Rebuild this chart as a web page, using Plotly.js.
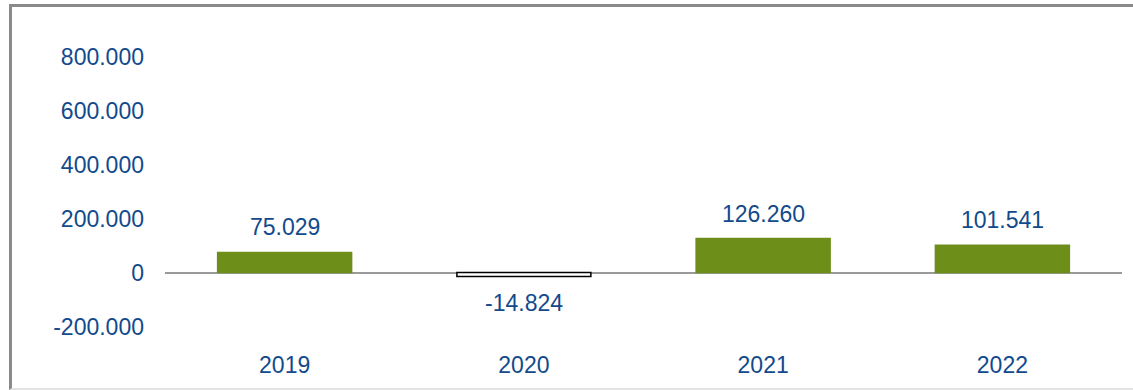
<!DOCTYPE html>
<html>
<head>
<meta charset="utf-8">
<script src="https://cdn.plot.ly/plotly-3.0.1.min.js"></script>
<style>
  html, body { margin: 0; padding: 0; background: #fff; }
  #wrap { position: relative; width: 1133px; height: 390px; overflow: hidden; }
  #chart { position: absolute; left: 0; top: 0; width: 1133px; height: 390px; }
  #frame { position: absolute; left: 9px; top: 4px; width: 1124px; height: 381px;
           border-top: 3px solid #8a8a8a; border-left: 3px solid #8a8a8a;
           border-bottom: 2px solid #e3e3e3; pointer-events: none; }
</style>
</head>
<body>
<div id="wrap"><div id="chart"></div><div id="frame"></div></div>
<script>
const years = ['2019', '2020', '2021', '2022'];
const values = [75029, -14824, 126260, 101541];
const labels = ['75.029', '-14.824', '126.260', '101.541'];
const tickVals = [-200000, 0, 200000, 400000, 600000, 800000];
const tickText = ['-200.000', '0', '200.000', '400.000', '600.000', '800.000'];

const textBlue = '#124a8c';
const green = '#6e8e1a';
const fnt = 'Liberation Sans, Arial, sans-serif';

const fills = values.map(v => v < 0 ? '#ffffff' : green);
const lineCols = values.map(v => v < 0 ? '#000000' : green);

const trace = {
  type: 'bar', x: years, y: values,
  marker: { color: fills, line: { color: lineCols, width: 1.5 } },
  hoverinfo: 'none'
};

const annotations = years.map((yr, i) => ({
  x: i, y: values[i], xref: 'x', yref: 'y',
  text: labels[i], showarrow: false,
  yanchor: 'middle', yshift: values[i] < 0 ? -26 : 25,
  font: { family: fnt, size: 23, color: textBlue }
}));

const layout = {
  width: 1133, height: 390,
  margin: { l: 165, r: 11, t: 30, b: 50 },
  paper_bgcolor: '#ffffff', plot_bgcolor: '#ffffff',
  bargap: 0.44,
  showlegend: false,
  xaxis: {
    type: 'category', categoryarray: years, range: [-0.5, 3.5],
    showgrid: false, showline: false, zeroline: false,
    ticks: 'outside', ticklen: 4, tickcolor: 'rgba(0,0,0,0)',
    tickfont: { family: fnt, size: 23, color: textBlue }
  },
  yaxis: {
    range: [-250000, 900000], showgrid: false, showline: false,
    zeroline: true, zerolinecolor: '#9a9a9a', zerolinewidth: 2,
    tickvals: tickVals, ticktext: tickText,
    ticklabelstandoff: 20,
    tickfont: { family: fnt, size: 23, color: textBlue }
  },
  annotations: annotations
};

Plotly.newPlot('chart', [trace], layout, { displayModeBar: false, staticPlot: true });
</script>
</body>
</html>
